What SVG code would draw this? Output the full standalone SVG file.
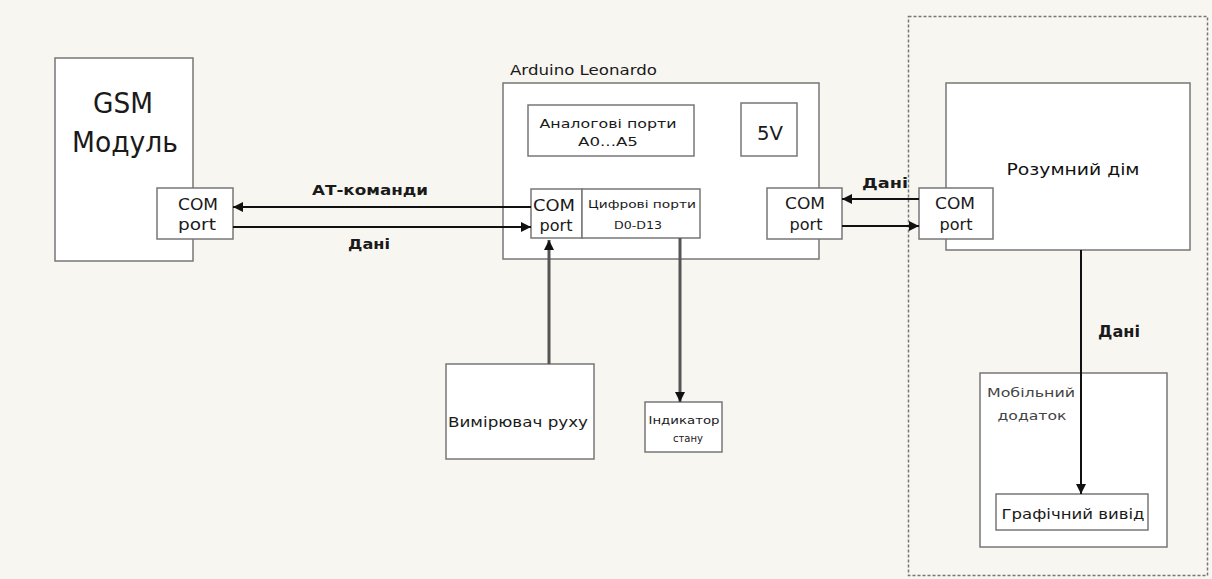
<svg xmlns="http://www.w3.org/2000/svg" width="1212" height="579" viewBox="0 0 1212 579">
<defs>
<marker id="ah" viewBox="0 0 10 10" refX="10" refY="5" markerWidth="11" markerHeight="10" markerUnits="userSpaceOnUse" orient="auto">
<path d="M0,0 L10,5 L0,10 Z" fill="#111"/>
</marker>
<style>
.box{fill:#fff;stroke:#777;stroke-width:1.5}
.t{font-family:"DejaVu Sans","Liberation Sans",sans-serif;fill:#1a1a1a;text-anchor:middle}
.b{font-weight:bold}
.c{stroke:#111;stroke-width:2;fill:none}
.g{stroke:#555;stroke-width:3;fill:none}
</style>
</defs>
<rect width="1212" height="579" fill="#f8f6f1"/>
<g id="smart-zone">
<rect x="908.5" y="16.5" width="299" height="559" fill="none" stroke="#777" stroke-width="1.5" stroke-dasharray="3,2"/>
</g>
<g id="gsm">
<rect class="box" x="55" y="58" width="138" height="203"/>
<text class="t" x="123" y="113" font-size="28" textLength="60" lengthAdjust="spacingAndGlyphs">GSM</text>
<text class="t" x="125" y="152" font-size="28" textLength="106" lengthAdjust="spacingAndGlyphs">Модуль</text>
</g>
<g id="gsm-com">
<rect class="box" x="157" y="188" width="76" height="51"/>
<text class="t" x="198" y="210" font-size="15" textLength="40" lengthAdjust="spacingAndGlyphs">COM</text>
<text class="t" x="197" y="230" font-size="15" textLength="38" lengthAdjust="spacingAndGlyphs">port</text>
</g>
<g id="arduino">
<text class="t" x="510" y="75" font-size="14" textLength="147" lengthAdjust="spacingAndGlyphs" style="text-anchor:start">Arduino Leonardo</text>
<rect class="box" x="503" y="83" width="316" height="176"/>
</g>
<g id="analog">
<rect class="box" x="528" y="105" width="166" height="51"/>
<text class="t" x="608" y="128" font-size="13" textLength="137" lengthAdjust="spacingAndGlyphs">Аналогові порти</text>
<text class="t" x="608" y="146" font-size="13" textLength="60" lengthAdjust="spacingAndGlyphs">A0...A5</text>
</g>
<g id="v5">
<rect class="box" x="741" y="103" width="56" height="53"/>
<text class="t" x="770" y="140" font-size="20" textLength="26" lengthAdjust="spacingAndGlyphs">5V</text>
</g>
<g id="ard-com-left">
<rect class="box" x="531" y="189" width="51" height="49"/>
<text class="t" x="554" y="211" font-size="15" textLength="42" lengthAdjust="spacingAndGlyphs">COM</text>
<text class="t" x="556" y="231" font-size="15" textLength="33" lengthAdjust="spacingAndGlyphs">port</text>
</g>
<g id="digital">
<rect class="box" x="582" y="189" width="118" height="49"/>
<text class="t" x="642" y="208" font-size="10.5" textLength="108" lengthAdjust="spacingAndGlyphs">Цифрові порти</text>
<text class="t" x="638" y="229" font-size="10.5" textLength="48" lengthAdjust="spacingAndGlyphs">D0-D13</text>
</g>
<g id="ard-com-right">
<rect class="box" x="767" y="188" width="75" height="51"/>
<text class="t" x="805" y="209" font-size="15" textLength="40" lengthAdjust="spacingAndGlyphs">COM</text>
<text class="t" x="806" y="230" font-size="15" textLength="33" lengthAdjust="spacingAndGlyphs">port</text>
</g>
<g id="smart-home">
<rect class="box" x="946" y="83" width="244" height="167"/>
<text class="t" x="1073" y="175" font-size="16" textLength="133" lengthAdjust="spacingAndGlyphs" style="fill:#111">Розумний дім</text>
</g>
<g id="smart-com">
<rect class="box" x="919" y="188" width="74" height="51"/>
<text class="t" x="955" y="209" font-size="15" textLength="40" lengthAdjust="spacingAndGlyphs">COM</text>
<text class="t" x="956" y="230" font-size="15" textLength="33" lengthAdjust="spacingAndGlyphs">port</text>
</g>
<g id="motion">
<rect class="box" x="446" y="364" width="148" height="95"/>
<text class="t" x="518" y="427" font-size="14" textLength="140" lengthAdjust="spacingAndGlyphs">Вимірювач руху</text>
</g>
<g id="indicator">
<rect class="box" x="645" y="402" width="77" height="50"/>
<text class="t" x="684" y="424" font-size="10.5" textLength="71" lengthAdjust="spacingAndGlyphs">Індикатор</text>
<text class="t" x="688" y="442" font-size="10.5" textLength="30" lengthAdjust="spacingAndGlyphs">стану</text>
</g>
<g id="mobile">
<rect class="box" x="980" y="373" width="187" height="174"/>
<text class="t" x="1031" y="397" font-size="13" textLength="88" lengthAdjust="spacingAndGlyphs" style="fill:#444">Мобільний</text>
<text class="t" x="1032" y="420" font-size="13" textLength="69" lengthAdjust="spacingAndGlyphs" style="fill:#444">додаток</text>
</g>
<g id="graphic">
<rect class="box" x="996" y="494" width="152" height="36"/>
<text class="t" x="1073" y="519" font-size="14" textLength="143" lengthAdjust="spacingAndGlyphs">Графічний вивід</text>
</g>
<g id="connectors">
<line class="c" x1="531" y1="207" x2="233" y2="207" marker-end="url(#ah)"/>
<line class="c" x1="233" y1="227" x2="531" y2="227" marker-end="url(#ah)"/>
<text class="t b" x="370" y="195" font-size="14" textLength="116" lengthAdjust="spacingAndGlyphs">АТ-команди</text>
<text class="t b" x="369" y="249" font-size="14" textLength="42" lengthAdjust="spacingAndGlyphs">Дані</text>
<line class="c" x1="919" y1="199" x2="842" y2="199" marker-end="url(#ah)"/>
<line class="c" x1="842" y1="226" x2="919" y2="226" marker-end="url(#ah)"/>
<text class="t b" x="885" y="188" font-size="14" textLength="46" lengthAdjust="spacingAndGlyphs">Дані</text>
<line class="g" x1="549" y1="364" x2="549" y2="240" marker-end="url(#ah)"/>
<line class="g" x1="680" y1="238" x2="680" y2="402" marker-end="url(#ah)"/>
<line class="c" x1="1081" y1="250" x2="1081" y2="494" marker-end="url(#ah)"/>
<text class="t b" x="1119" y="337" font-size="15" textLength="42" lengthAdjust="spacingAndGlyphs">Дані</text>
</g>
</svg>
